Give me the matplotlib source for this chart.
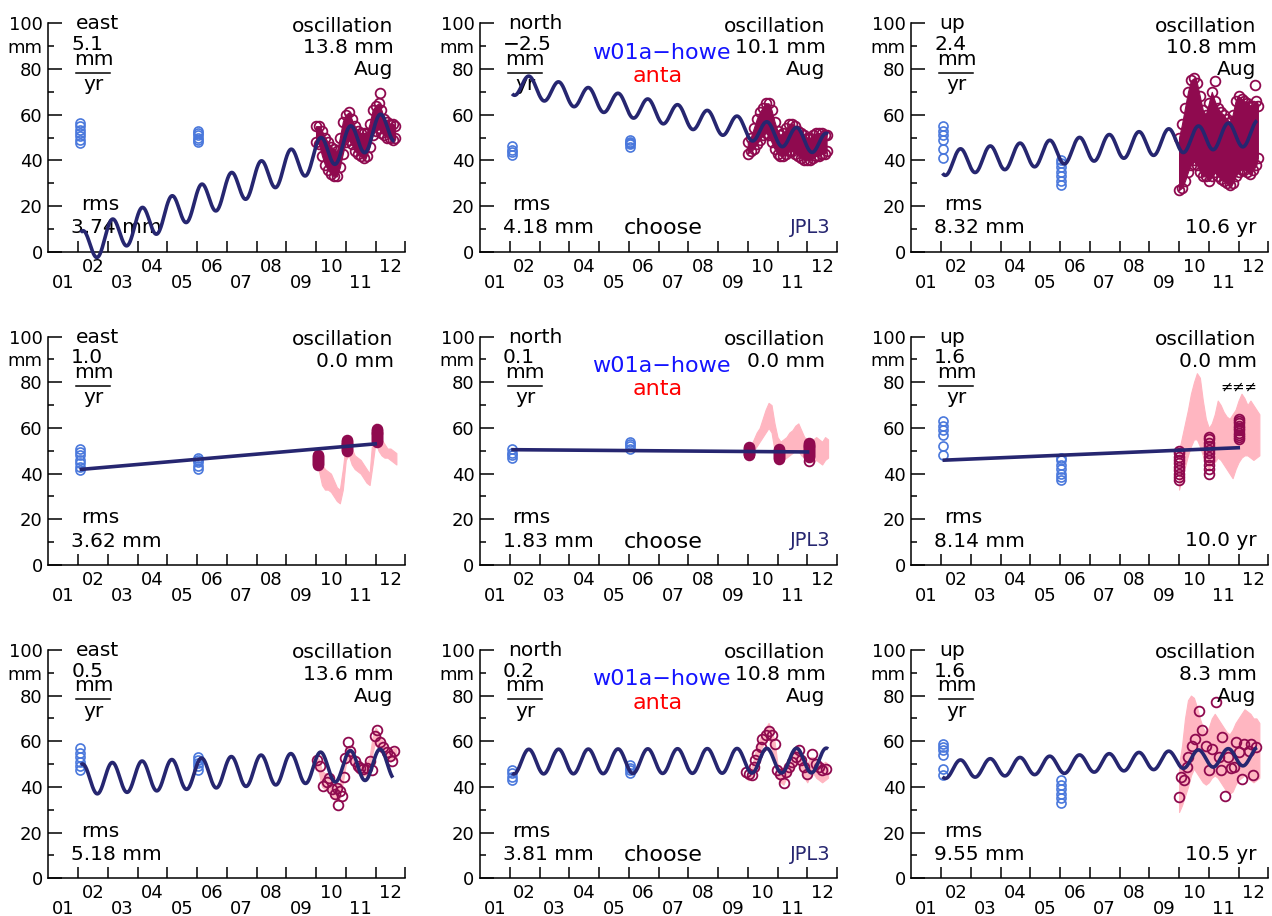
import matplotlib
matplotlib.use('Agg')
import matplotlib.pyplot as plt
import numpy as np

plt.rcParams['font.family'] = ['DejaVu Sans']

NAVY = '#262670'
BLUE = '#4a78dc'
MAROON = '#8f0a4f'
PINK = '#ffb6c1'

years = ['01', '02', '03', '04', '05', '06', '07', '08', '09', '10', '11', '12']
comps = ['east', 'north', 'up']

# panel texts, rows top to bottom, columns east / north / up
rates = [['5.1', '\u22122.5', '2.4'], ['1.0', '0.1', '1.6'], ['0.5', '0.2', '1.6']]
osc = [['13.8 mm', '10.1 mm', '10.8 mm'], ['0.0 mm', '0.0 mm', '0.0 mm'],
       ['13.6 mm', '10.8 mm', '8.3 mm']]
osc_note = [['Aug', 'Aug', 'Aug'], ['', '', '\u2260\u2260\u2260'], ['Aug', 'Aug', 'Aug']]
rms = [['3.74 mm', '4.18 mm', '8.32 mm'], ['3.62 mm', '1.83 mm', '8.14 mm'],
       ['5.18 mm', '3.81 mm', '9.55 mm']]
span = ['10.6 yr', '10.0 yr', '10.5 yr']

# campaign occupations (w01a-howe), values per column: [2002 values, 2006 values]
camp_t = [2002.07, 2006.03]
camp_r1 = [[[47.5, 49, 50.5, 52, 53.5, 55, 56.5], [48, 49, 50, 51, 52, 53]],
           [[42.5, 43.5, 44.5, 46.5], [46, 47, 47.5, 48, 49]],
           [[41, 45, 49, 51, 53, 55], [29, 31, 33, 35, 37, 39, 40]]]
camp_r2 = [[[41.5, 43, 44.5, 46, 48, 49.5, 51], [42, 43.5, 45, 46, 47]],
           [[47, 48, 49, 51], [51, 52, 53, 54]],
           [[48, 52, 57, 59, 61, 63], [37, 38.5, 40, 42, 44, 46, 47]]]
camp_r3 = [[[47.5, 49, 51, 53, 55, 57], [47.5, 49, 50.5, 52, 53]],
           [[43, 44.5, 46, 47.5], [46, 47.5, 48.5, 49.5]],
           [[45, 48, 54, 56, 57.5, 59], [33, 35, 37, 39, 41, 43]]]

# fitted model: level at 2007.0, rate mm/yr, peak-to-peak annual term, peak phase
mod_level = [[26.8, 61.2, 45.0], [47.4, 50.0, 48.6], [46.5, 51.3, 50.3]]
mod_rate = [[5.1, -2.5, 1.25], [1.13, -0.1, 0.55], [0.65, 0.05, 0.55]]
mod_pp = [[14.2, 9.6, 11.0], [0.0, 0.0, 0.0], [13.4, 10.8, 7.8]]
mod_peak = [[0.15, 0.65, 0.65], [0.0, 0.0, 0.0], [0.15, 0.64, 0.65]]
mod_start = [[2002.09, 2002.08, 2002.05], [2002.05, 2002.05, 2002.05],
             [2002.09, 2002.08, 2002.05]]
mod_end = [[2012.64, 2012.70, 2012.62], [2012.05, 2012.07, 2012.05],
           [2012.58, 2012.70, 2012.62]]

# row 1: dense continuous anta record, low / high edge of the cloud
cloud_t = np.append(np.arange(2010.0, 2012.61, 0.1), 2012.65)
cloud_lo = [[48, 47, 42, 38, 36, 34, 33, 33, 37, 43, 48, 49, 47, 44, 43, 42, 41, 42, 46, 51,
             53, 54, 52, 51, 50, 50, 49, 50],
            [43, 44, 45, 47, 49, 51, 52, 51, 48, 45, 43, 42, 42, 43, 44, 44, 43, 42, 41, 40,
             40, 40, 41, 42, 42, 43, 43, 44],
            [27, 28, 31, 35, 38, 40, 38, 35, 33, 33, 31, 33, 35, 33, 32, 31, 30, 29, 30, 33,
             35, 36, 36, 35, 34, 36, 38, 41]]
cloud_hi = [[55, 55, 53, 50, 48, 46, 45, 44, 50, 57, 60, 61, 58, 55, 53, 52, 52, 52, 56, 62,
             64, 65, 62, 58, 57, 56, 56, 55],
            [48, 50, 54, 58, 61, 63, 65, 65, 62, 57, 53, 51, 52, 54, 56, 56, 55, 53, 52, 51,
             50, 50, 51, 52, 52, 52, 51, 51],
            [50, 56, 63, 70, 75, 76, 74, 68, 62, 60, 65, 70, 66, 63, 61, 60, 58, 57, 60, 66,
             68, 67, 66, 65, 64, 64, 66, 64]]
cloud_out_t = [[2012.15], [], [2011.22, 2012.56]]
cloud_out_v = [[69.5], [], [74.9, 73.0]]

# rows 2-3: daily anta solutions (pink), low / high edge
pink_t = np.arange(2010.0, 2012.71, 0.1)
pink_lo_r2 = [[44, 41, 35, 33, 33, 32, 30, 28, 27, 33, 46, 48, 44, 42, 41, 40, 38, 36, 35, 44,
               54, 50, 48, 47, 47, 46, 45, 44],
              [48, 49, 50, 52, 54, 56, 58, 60, 58, 50, 47, 46, 46, 47, 48, 49, 50, 50, 48, 47,
               46, 45, 45, 46, 45, 44, 46, 47],
              [33, 38, 43, 48, 52, 55, 55, 52, 48, 44, 42, 44, 45, 47, 46, 44, 42, 40, 38, 42,
               45, 47, 48, 48, 47, 46, 47, 48]]
pink_hi_r2 = [[49, 48, 44, 42, 41, 40, 37, 34, 33, 42, 53, 54, 51, 48, 47, 46, 44, 42, 40, 56,
               62, 58, 55, 53, 51, 51, 50, 49],
              [52, 52, 55, 58, 60, 64, 68, 71, 70, 62, 56, 54, 55, 56, 58, 59, 61, 62, 59, 56,
               55, 54, 55, 56, 55, 54, 56, 55],
              [50, 56, 62, 68, 75, 80, 84, 82, 72, 64, 60, 62, 66, 72, 70, 67, 65, 64, 66, 68,
               72, 75, 73, 70, 72, 70, 68, 66]]
pink_lo_r3 = [[49, 46, 40, 39, 40, 37, 35, 34, 35, 42, 50, 53, 51, 48, 46, 45, 45, 45, 47, 55,
               60, 58, 55, 53, 52, 51, 52, 52],
              [43, 43, 46, 52, 55, 58, 60, 61, 58, 50, 44, 42, 41, 44, 46, 48, 50, 50, 47, 44,
               42, 45, 46, 44, 43, 42, 43, 44],
              [29, 32, 36, 40, 45, 48, 46, 44, 42, 41, 42, 44, 45, 44, 42, 40, 38, 37, 38, 41,
               43, 44, 45, 44, 43, 42, 43, 44]]
pink_hi_r3 = [[54, 52, 47, 46, 46, 43, 41, 41, 41, 48, 56, 58, 56, 53, 51, 50, 50, 51, 53, 62,
               66, 64, 61, 59, 57, 56, 57, 57],
              [48, 48, 52, 58, 61, 64, 66, 68, 65, 60, 50, 48, 47, 50, 53, 55, 57, 58, 54, 51,
               50, 53, 53, 51, 50, 50, 51, 50],
              [50, 58, 70, 78, 80, 79, 75, 70, 66, 64, 66, 70, 72, 70, 68, 66, 64, 63, 65, 68,
               70, 72, 74, 73, 72, 70, 70, 68]]

# row 2: anta values used in the campaign-style fit (three yearly windows)
r2_epochs = [[2010.05, 2011.05, 2012.05], [2010.04, 2011.05, 2012.06], [2010.0, 2011.0, 2012.0]]
r2_vals = [[[44.0, 44.4, 44.8, 45.2, 45.6, 46.0, 46.4, 46.8, 47.2, 47.6, 48.0],
            [50.0, 50.4, 50.8, 51.2, 51.6, 52.0, 52.4, 52.8, 53.2, 53.6, 54.0, 54.4, 54.8],
            [54.0, 54.4, 54.8, 55.2, 55.6, 56.0, 56.4, 56.8, 57.2, 57.6, 58.0, 58.4, 58.8,
             59.2, 59.6]],
           [[48.0, 48.4, 48.8, 49.2, 49.6, 50.0, 50.4, 50.8, 51.2, 51.5],
            [46.5, 46.9, 47.3, 47.7, 48.1, 48.5, 48.9, 49.3, 49.7, 50.1, 50.5, 50.7],
            [45.5, 47.5, 47.9, 48.3, 48.7, 49.1, 49.5, 49.9, 50.3, 50.7, 51.1, 51.5, 51.9,
             52.3, 52.7, 53.1, 53.5]],
           [[37, 38.5, 40, 41.5, 43, 44.5, 46, 47.5, 49, 50],
            [40, 42, 44, 46, 47.5, 49, 50.5, 52, 53.5, 55, 56],
            [55, 56, 57, 58, 59, 60, 61, 62, 63, 64]]]

# row 3: monthly anta averages
r3_t = [[2010.03, 2010.12, 2010.25, 2010.36, 2010.45, 2010.53, 2010.64, 2010.69, 2010.75,
         2010.80, 2010.86, 2010.94, 2010.97, 2011.09, 2011.14, 2011.31, 2011.42, 2011.48,
         2011.59, 2011.70, 2011.81, 2011.87, 2011.98, 2012.06, 2012.15, 2012.26, 2012.37,
         2012.49, 2012.55, 2012.62],
        [2009.93, 2010.04, 2010.15, 2010.20, 2010.26, 2010.32, 2010.43, 2010.49, 2010.60,
         2010.71, 2010.82, 2010.91, 2010.99, 2011.10, 2011.22, 2011.29, 2011.38, 2011.50,
         2011.61, 2011.72, 2011.78, 2011.89, 2012.00, 2012.17, 2012.28, 2012.39, 2012.50,
         2012.62],
        [2010.00, 2010.05, 2010.16, 2010.28, 2010.29, 2010.44, 2010.55, 2010.66, 2010.78,
         2010.89, 2011.00, 2011.12, 2011.23, 2011.34, 2011.42, 2011.45, 2011.56, 2011.64,
         2011.73, 2011.84, 2011.90, 2012.01, 2012.12, 2012.20, 2012.35, 2012.43, 2012.50,
         2012.60]]
r3_v = [[51.8, 49.3, 40.2, 42.1, 44.0, 39.2, 37.0, 39.6, 32.3, 38.4, 36.2, 44.2, 52.7, 59.5,
         55.9, 51.5, 49.3, 48.3, 47.9, 48.3, 51.5, 47.2, 62.4, 64.9, 59.5, 57.3, 55.2, 53.7,
         51.5, 55.6],
        [46.6, 45.6, 45.1, 48.8, 52.0, 54.6, 57.5, 61.1, 62.6, 64.5, 62.6, 58.7, 47.3, 45.6,
         41.5, 46.6, 48.8, 50.9, 53.1, 56.0, 51.7, 48.8, 45.6, 54.6, 50.2, 48.8, 47.3, 48.0],
        [35.8, 44.2, 43.1, 48.6, 53.0, 58.1, 61.0, 73.4, 64.9, 58.1, 47.2, 56.6, 77.4, 53.0,
         47.2, 61.7, 36.2, 53.0, 48.3, 48.6, 59.5, 55.1, 43.5, 58.8, 55.9, 58.8, 45.4, 57.3]]

camp_rows = [camp_r1, camp_r2, camp_r3]

fig = plt.figure(figsize=(12.72, 9.16), dpi=100)
lefts = [0.03797, 0.37736, 0.71643]
bottoms = [0.7252, 0.3832, 0.0412]

FS = 14.5
ring = dict(mfc='none', mec=MAROON, ms=7, mew=1.3, ls='none', marker='o')

for r in range(3):
    for c in range(3):
        ax = fig.add_axes([lefts[c], bottoms[r], 0.28066, 0.2493])
        ax.set_xlim(2001, 2013)
        ax.set_ylim(0, 100)
        ax.spines[['top', 'right']].set_visible(False)
        ax.spines['left'].set_linewidth(1.1)
        ax.spines['bottom'].set_linewidth(1.1)
        ax.set_xticks(np.arange(2002, 2014))
        ax.tick_params(axis='x', direction='in', length=8, width=1.1, labelbottom=False)
        ax.set_yticks([0, 20, 40, 60, 80, 100])
        ax.set_yticklabels(['0', '20', '40', '60', '80', '100'])
        ax.set_yticks([10, 30, 50, 70, 90], minor=True)
        ax.set_yticklabels(['', '', '', '', 'mm'], minor=True)
        ax.tick_params(axis='y', which='major', direction='in', length=10, width=1.1,
                       labelsize=13, pad=4)
        ax.tick_params(axis='y', which='minor', direction='in', length=4.3, width=1.1,
                       labelsize=13, pad=4)

        # year labels centred in each year, staggered on two rows
        for i, lab in enumerate(years):
            yy = -0.0876 if i % 2 == 1 else -0.158
            ax.text(2001.5 + i, yy, lab, transform=ax.get_xaxis_transform(),
                    ha='center', va='baseline', fontsize=13, clip_on=False)

        # anta data
        if r == 0:
            ax.fill_between(cloud_t, cloud_lo[c], cloud_hi[c], facecolor=MAROON,
                            edgecolor=MAROON, lw=0.8, alpha=1.0, zorder=2)
            ax.plot(cloud_t, cloud_lo[c], zorder=3, **ring)
            ax.plot(cloud_t, cloud_hi[c], zorder=3, **ring)
            ax.plot(cloud_out_t[c], cloud_out_v[c], zorder=3, **ring)
        else:
            lo = pink_lo_r2[c] if r == 1 else pink_lo_r3[c]
            hi = pink_hi_r2[c] if r == 1 else pink_hi_r3[c]
            ax.fill_between(pink_t, lo, hi, facecolor=PINK, edgecolor=PINK, lw=0.8, zorder=2)
            if r == 1:
                for ep, vals in zip(r2_epochs[c], r2_vals[c]):
                    ax.plot([ep] * len(vals), vals, zorder=3, **ring)
            else:
                ax.plot(r3_t[c], r3_v[c], zorder=3, **ring)

        # campaign data
        for ep, vals in zip(camp_t, camp_rows[r][c]):
            ax.plot([ep] * len(vals), vals, 'o', mfc='none', mec=BLUE, ms=6.5, mew=1.2,
                    zorder=3)

        # fitted model
        tm = np.linspace(mod_start[r][c], mod_end[r][c], 800)
        ym = (mod_level[r][c] + mod_rate[r][c] * (tm - 2007.0)
              + 0.5 * mod_pp[r][c] * np.cos(2 * np.pi * (tm - mod_peak[r][c])))
        ax.plot(tm, ym, color=NAVY, lw=2.6, clip_on=False, solid_capstyle='butt', zorder=4)

        # annotations
        ax.text(2001.93, 97.4, comps[c], ha='left', va='baseline', fontsize=FS, clip_on=False)
        ax.text(2001.77, 88.3, rates[r][c], ha='left', va='baseline', fontsize=FS)
        ax.text(2002.52, 81.8, 'mm', ha='center', va='baseline', fontsize=FS)
        ax.plot([2001.94, 2003.09], [78.4, 78.4], color='black', lw=1.1)
        ax.text(2002.52, 70.8, 'yr', ha='center', va='baseline', fontsize=FS)

        ax.text(2012.61, 96.4, 'oscillation', ha='right', va='baseline', fontsize=FS,
                clip_on=False)
        ax.text(2012.61, 86.9, osc[r][c], ha='right', va='baseline', fontsize=FS)
        if osc_note[r][c] == 'Aug':
            ax.text(2012.61, 77.4, 'Aug', ha='right', va='baseline', fontsize=FS)
        elif osc_note[r][c]:
            ax.text(2012.63, 76.0, osc_note[r][c], ha='right', va='baseline', fontsize=10.5)

        ax.text(2002.09, 18.2, 'rms', ha='left', va='baseline', fontsize=FS)
        ax.text(2001.76, 8.0, rms[r][c], ha='left', va='baseline', fontsize=FS)

        if c == 1:
            ax.text(2007.11, 84.6, 'w01a\u2212howe', ha='center', va='baseline',
                    fontsize=16, color='#1414ff')
            ax.text(2006.98, 74.3, 'anta', ha='center', va='baseline', fontsize=16,
                    color='#ff0000')
            ax.text(2007.17, 7.6, 'choose', ha='center', va='baseline', fontsize=16)
            ax.text(2012.79, 8.1, 'JPL3', ha='right', va='baseline', fontsize=14, color=NAVY)
        if c == 2:
            ax.text(2012.61, 8.1, span[r], ha='right', va='baseline', fontsize=FS)

fig.savefig('out.png', dpi=100)
